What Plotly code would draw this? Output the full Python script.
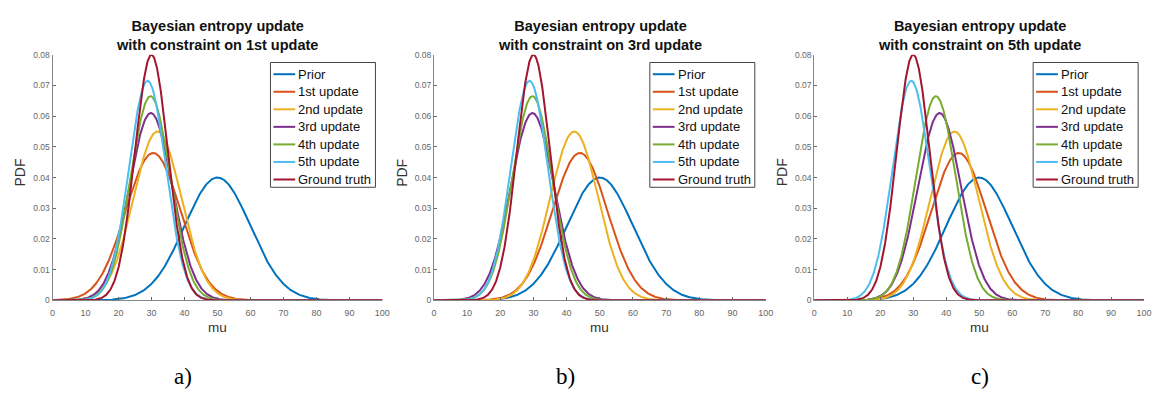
import numpy as np
import plotly.graph_objects as go

# ---- data ----
series_names = ["Prior", "1st update", "2nd update", "3rd update", "4th update", "5th update", "Ground truth"]
series_colors = ["#0072BD", "#D95319", "#EDB120", "#7E2F8E", "#77AC30", "#4DBEEE", "#A2142F"]
# peak heights of each PDF (same in all panels)
peak_heights = [0.040, 0.048, 0.055, 0.061, 0.0665, 0.0715, 0.080]
# peak locations (mu) of each PDF per panel
means_a = [50, 30.5, 31.8, 29.8, 29.7, 28.8, 30]
means_b = [50, 44.0, 42.3, 29.7, 29.7, 28.8, 30]
means_c = [50, 43.8, 42.5, 38.0, 36.9, 29.4, 30]
panel_titles = ["Bayesian entropy update<br>with constraint on 1st update",
                "Bayesian entropy update<br>with constraint on 3rd update",
                "Bayesian entropy update<br>with constraint on 5th update"]
panel_letters = ["a)", "b)", "c)"]
x_ticks = list(range(0, 101, 10))
y_ticks = [0, 0.01, 0.02, 0.03, 0.04, 0.05, 0.06, 0.07, 0.08]
y_ticklabels = ["0", "0.01", "0.02", "0.03", "0.04", "0.05", "0.06", "0.07", "0.08"]

W, H = 1161, 397
mu = np.linspace(0, 100, 801)

def normal_pdf(x, m, peak):
    s = 1.0 / (peak * np.sqrt(2 * np.pi))
    return np.exp(-0.5 * ((x - m) / s) ** 2) / (s * np.sqrt(2 * np.pi))

fig = go.Figure()

# plot boxes in pixels: (left, right)
boxes = [(50, 383), (435, 770), (819, 1152)]
top_px, bot_px = 51, 303
legend_right = [376, 759, 1146]
letter_x = [182, 568, 986]

def px(x):
    return x / W

def py(y):
    return 1 - y / H

means_all = [means_a, means_b, means_c]
for p in range(3):
    xa = "x" if p == 0 else f"x{p+1}"
    ya = "y" if p == 0 else f"y{p+1}"
    for i, name in enumerate(series_names):
        fig.add_trace(go.Scatter(
            x=mu, y=normal_pdf(mu, means_all[p][i], peak_heights[i]),
            mode="lines", name=name, line=dict(color=series_colors[i], width=2),
            xaxis=xa, yaxis=ya, showlegend=False))

layout = dict(width=W, height=H, margin=dict(l=0, r=0, t=0, b=0),
              paper_bgcolor="white", plot_bgcolor="white", showlegend=False)
annotations = []
shapes = []
for p in range(3):
    l, r = boxes[p]
    xk = "xaxis" if p == 0 else f"xaxis{p+1}"
    yk = "yaxis" if p == 0 else f"yaxis{p+1}"
    anchor_x = "x" if p == 0 else f"x{p+1}"
    anchor_y = "y" if p == 0 else f"y{p+1}"
    layout[xk] = dict(domain=[px(l), px(r)], range=[0, 100], tickvals=x_ticks,
                      ticks="inside", ticklen=3, tickcolor="#666", showgrid=False, zeroline=False,
                      showline=True, linecolor="#888", linewidth=1, anchor=anchor_y,
                      ticklabelstandoff=4,
                      tickfont=dict(family="Liberation Sans", size=9, color="#666"))
    layout[yk] = dict(domain=[py(bot_px), py(top_px)], range=[0, 0.08],
                      tickvals=y_ticks, ticktext=y_ticklabels,
                      ticks="inside", ticklen=3, tickcolor="#666", showgrid=False, zeroline=False,
                      showline=True, linecolor="#888", linewidth=1, anchor=anchor_x,
                      tickfont=dict(family="Liberation Sans", size=8.5, color="#666"))
    cx = (l + r) / 2
    annotations.append(dict(text="<b>" + panel_titles[p] + "</b>", x=px(cx), y=py(31),
                            xref="paper", yref="paper", xanchor="center", yanchor="middle",
                            showarrow=False, font=dict(family="Liberation Sans", size=14.5, color="#111")))
    annotations.append(dict(text="mu", x=px(cx), y=py(331), xref="paper", yref="paper",
                            xanchor="center", yanchor="middle", showarrow=False,
                            font=dict(family="Liberation Sans", size=13.5, color="#333")))
    annotations.append(dict(text="PDF", x=px(l - 33), y=py(172), xref="paper", yref="paper",
                            xanchor="center", yanchor="middle", showarrow=False, textangle=-90,
                            font=dict(family="Liberation Sans", size=14, color="#333")))
    annotations.append(dict(text=panel_letters[p], x=px(letter_x[p]), y=py(381), xref="paper", yref="paper",
                            xanchor="center", yanchor="middle", showarrow=False,
                            font=dict(family="Liberation Serif", size=23, color="#000")))
    # legend box drawn like the MATLAB legend
    lr = legend_right[p]
    ll = lr - 106
    shapes.append(dict(type="rect", xref="paper", yref="paper", x0=px(ll), x1=px(lr),
                       y0=py(187), y1=py(59), line=dict(color="#444", width=1),
                       fillcolor="white", layer="above"))
    for i, name in enumerate(series_names):
        yy = 71 + 18 * i
        shapes.append(dict(type="line", xref="paper", yref="paper", x0=px(ll + 3), x1=px(ll + 25),
                           y0=py(yy), y1=py(yy), line=dict(color=series_colors[i], width=2),
                           layer="above"))
        annotations.append(dict(text=name, x=px(ll + 26), y=py(yy), xref="paper", yref="paper",
                                xanchor="left", yanchor="middle", showarrow=False,
                                font=dict(family="Liberation Sans", size=13, color="#111")))
layout["annotations"] = annotations
layout["shapes"] = shapes
fig.update_layout(**layout)
fig.write_html("out.html")
